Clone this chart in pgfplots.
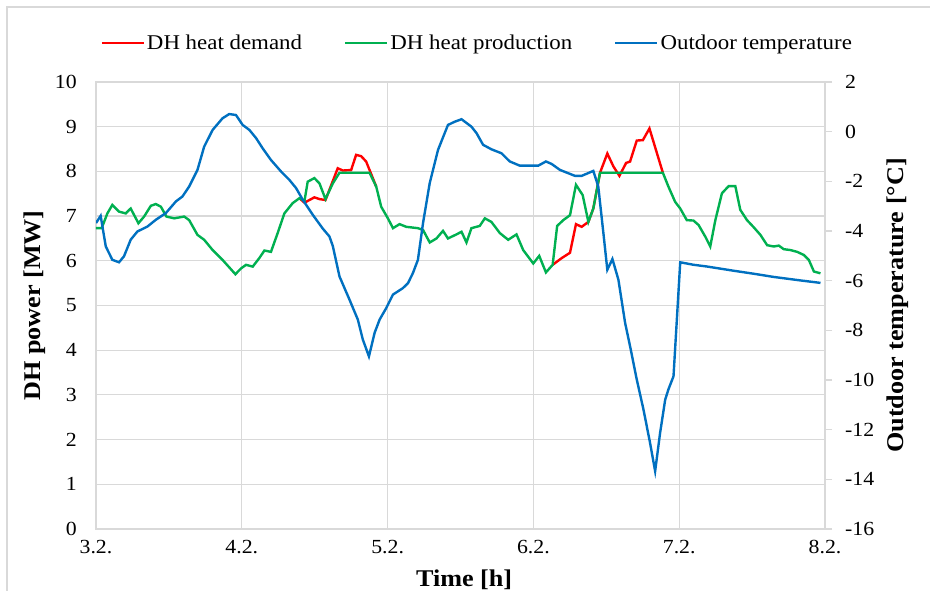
\documentclass[border=0pt]{standalone}
\usepackage{fontspec}
\setmainfont{Liberation Serif}[FakeStretch=1.09]
\usepackage{pgfplots}
\pgfplotsset{compat=1.18}
\definecolor{xred}{RGB}{255,0,0}
\definecolor{xgreen}{RGB}{0,176,80}
\definecolor{xblue}{RGB}{0,112,192}
\definecolor{gridgray}{RGB}{217,217,217}
\begin{document}
\begin{tikzpicture}
\useasboundingbox (-96bp,-62bp) rectangle (834bp,529bp);
\draw[gridgray, line width=1.2bp] (-89bp,-62bp) -- (-89bp,522bp) -- (834bp,522bp);
\pgfplotsset{
  common/.style={
    scale only axis, width=729bp, height=447bp,
    xmin=0, xmax=5,
    /pgf/number format/assume math mode=true,
    tick label style={font=\fontsize{20bp}{24bp}\selectfont},
  }
}
\begin{axis}[common,
  ymin=0, ymax=10, ytick={0,1,...,10},
  xtick={0,1,2,3,4,5},
  xticklabels={3.2.,4.2.,5.2.,6.2.,7.2.,8.2.},
  grid=major, grid style={gridgray, line width=1.2bp},
  axis line style={gridgray, line width=1.2bp},
  major tick length=0pt,
  ytick pos=left, xtick pos=bottom,
  yticklabel style={inner sep=0pt, anchor=east, xshift=-19bp},
  xticklabel style={inner sep=0pt, anchor=north, yshift=-11bp},
  xlabel={Time [h]},
  ylabel={DH power [MW]},
  every axis x label/.style={at={(axis description cs:0.505,-0.113)}, anchor=center, font=\fontsize{24bp}{28bp}\selectfont\bfseries},
  every axis y label/.style={at={(axis description cs:-0.084,0.5)}, anchor=center, rotate=90, font=\fontsize{24bp}{28bp}\selectfont\bfseries},
]
\addplot[xred, line width=2.4bp] coordinates {
(1.395,7.40) (1.43,7.30) (1.498,7.42) (1.533,7.38) (1.574,7.36) (1.658,8.07)
(1.693,8.02) (1.75,8.03) (1.784,8.37) (1.819,8.34) (1.853,8.22) (1.922,7.66)
};
\addplot[xred, line width=2.4bp] coordinates {
(3.132,5.91) (3.194,6.06) (3.251,6.18) (3.292,6.82) (3.331,6.76) (3.377,6.87)
(3.411,7.17) (3.457,7.97) (3.507,8.40) (3.549,8.11) (3.59,7.90) (3.636,8.19)
(3.663,8.22) (3.709,8.69) (3.751,8.70) (3.796,8.96) (3.888,7.97)
};
\addplot[xgreen, line width=2.4bp] table {
t P
0 6.73
0.039 6.73
0.078 7.06
0.112 7.25
0.158 7.10
0.204 7.06
0.238 7.17
0.291 6.84
0.33 6.99
0.376 7.23
0.41 7.27
0.445 7.21
0.483 6.99
0.536 6.95
0.605 6.99
0.639 6.91
0.696 6.58
0.742 6.47
0.8 6.24
0.868 6.02
0.956 5.70
0.995 5.83
1.029 5.91
1.075 5.87
1.12 6.06
1.155 6.23
1.2 6.20
1.246 6.62
1.292 7.06
1.349 7.29
1.395 7.40
1.43 7.34
1.452 7.77
1.498 7.85
1.533 7.73
1.574 7.38
1.624 7.73
1.67 7.97
1.876 7.97
1.922 7.66
1.956 7.21
2.002 6.95
2.037 6.73
2.082 6.82
2.128 6.76
2.208 6.73
2.243 6.69
2.289 6.41
2.335 6.50
2.38 6.67
2.414 6.50
2.472 6.59
2.507 6.65
2.541 6.41
2.575 6.73
2.632 6.78
2.667 6.95
2.712 6.87
2.77 6.62
2.827 6.47
2.884 6.59
2.93 6.24
2.999 5.94
3.04 6.11
3.086 5.74
3.132 5.91
3.163 6.78
3.205 6.91
3.251 7.02
3.292 7.70
3.338 7.47
3.377 6.87
3.411 7.17
3.457 7.97
3.888 7.97
3.926 7.66
3.972 7.32
4.007 7.17
4.052 6.91
4.098 6.90
4.133 6.80
4.179 6.54
4.213 6.32
4.248 6.91
4.293 7.51
4.339 7.67
4.385 7.67
4.419 7.14
4.465 6.91
4.511 6.75
4.557 6.58
4.603 6.35
4.649 6.32
4.683 6.34
4.717 6.26
4.763 6.24
4.809 6.20
4.855 6.13
4.889 6.02
4.924 5.76
4.969 5.72
};
\end{axis}
\begin{axis}[common,
  ymin=-16, ymax=2, ytick={-16,-14,...,2},
  yticklabels={-16,-14,-12,-10,-8,-6,-4,-2,0,2},
  axis x line=none, axis y line*=right,
  axis line style={gridgray, line width=1.2bp},
  tick style={gridgray, line width=1.2bp},
  tick align=outside, major tick length=7bp,
  yticklabel style={inner sep=0pt, anchor=west, xshift=13bp},
  ylabel={Outdoor temperature [\textdegree C]},
  every axis y label/.style={at={(axis description cs:1.1,0.5)}, anchor=center, rotate=90, font=\fontsize{24bp}{28bp}\selectfont\bfseries},
  legend columns=3,
  legend style={at={(axis description cs:0.523,1.087)}, anchor=center, draw=none, fill=none,
    font=\fontsize{21bp}{25bp}\selectfont, inner sep=0pt,
    /tikz/every even column/.append style={column sep=40bp}},
  legend image code/.code={\draw[#1] (0bp,0bp) -- (42bp,0bp);},
]
\addlegendimage{xred, line width=2.4bp}
\addlegendentry{DH heat demand}
\addlegendimage{xgreen, line width=2.4bp}
\addlegendentry{DH heat production}
\addplot[xblue, line width=2.4bp] table {
t T
0 -3.68
0.032 -3.39
0.067 -4.62
0.112 -5.16
0.158 -5.26
0.192 -5.02
0.238 -4.35
0.284 -4.02
0.353 -3.82
0.41 -3.55
0.479 -3.28
0.548 -2.81
0.593 -2.61
0.639 -2.21
0.696 -1.54
0.742 -0.60
0.8 0.07
0.868 0.54
0.914 0.71
0.96 0.67
1.006 0.27
1.052 0.07
1.098 -0.26
1.143 -0.67
1.2 -1.14
1.27 -1.61
1.326 -1.94
1.372 -2.27
1.418 -2.74
1.487 -3.35
1.555 -3.9
1.601 -4.22
1.624 -4.6
1.67 -5.83
1.739 -6.77
1.796 -7.57
1.83 -8.37
1.872 -9.05
1.911 -8.10
1.945 -7.57
1.991 -7.10
2.037 -6.56
2.105 -6.30
2.14 -6.1
2.174 -5.69
2.208 -5.16
2.243 -3.68
2.289 -2.07
2.346 -0.73
2.414 0.27
2.46 0.40
2.507 0.50
2.575 0.20
2.61 -0.06
2.655 -0.53
2.712 -0.71
2.781 -0.87
2.838 -1.2
2.907 -1.37
3.033 -1.37
3.086 -1.2
3.125 -1.3
3.182 -1.54
3.285 -1.78
3.331 -1.78
3.411 -1.58
3.445 -2.21
3.48 -4.08
3.507 -5.56
3.542 -5.13
3.583 -5.96
3.629 -7.7
3.663 -8.64
3.709 -9.98
3.755 -11.19
3.8 -12.53
3.835 -13.67
3.869 -12.13
3.904 -10.79
3.926 -10.38
3.961 -9.85
4.007 -5.26
4.098 -5.36
4.19 -5.43
4.373 -5.6
4.51 -5.72
4.648 -5.85
4.831 -5.99
4.969 -6.09
};
\addlegendentry{Outdoor temperature}
\end{axis}
\end{tikzpicture}
\end{document}
